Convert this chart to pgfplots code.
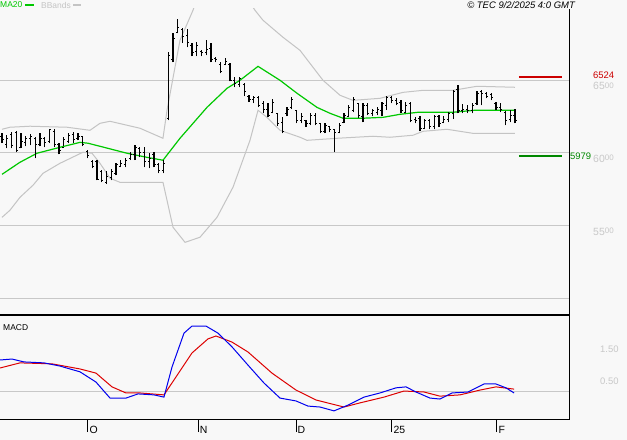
\documentclass[border=0pt]{standalone}
\usepackage{fontspec}
\setmainfont{Liberation Sans}
\usepackage{pgfplots}
\usepackage{pgfplotstable}
\pgfplotsset{compat=1.18}
\definecolor{bg}{HTML}{F8F8F8}
\definecolor{gridc}{HTML}{C8C8C8}
\definecolor{bandc}{HTML}{C4C4C4}
\definecolor{mac}{HTML}{00C800}
\definecolor{supc}{HTML}{008800}
\definecolor{resc}{HTML}{CC0000}
\definecolor{macdb}{HTML}{0000EE}
\definecolor{macdr}{HTML}{DD0000}
\newcommand\fs[1]{\fontsize{#1}{#1}\selectfont}
\newcommand\hund[1]{{\fs{10.5}#1}{\fs{8}\raisebox{1.8bp}{00}}}

\pgfplotstableread{
i o h l c
0 6110 6135 6067 6090
1 6060 6122 6032 6100
2 6130 6142 6032 6050
3 6140 6149 6005 6020
4 6040 6135 6032 6080
5 6070 6115 6046 6100
6 6100 6128 6053 6110
7 6100 6108 5963 6060
8 6060 6135 6046 6100
9 6100 6108 6039 6070
10 6080 6163 6067 6160
11 6150 6163 6039 6060
12 6060 6067 5991 6020
13 6040 6108 6046 6090
14 6080 6135 6067 6120
15 6130 6142 6067 6090
16 6100 6135 6087 6110
17 6110 6115 6046 6060
18 6010 6018 5963 5980
19 5940 5950 5894 5910
20 5940 5950 5812 5820
21 5870 5881 5798 5810
22 5800 5874 5785 5840
23 5830 5888 5812 5870
24 5860 5929 5846 5920
25 5910 5950 5901 5930
26 5920 5963 5901 5950
27 5960 6005 5950 5990
28 5990 6053 5950 6040
29 6030 6039 5970 6000
30 6000 6039 5901 5940
31 5940 5998 5894 5960
32 5990 6005 5901 5920
33 5920 5929 5860 5880
34 5880 5950 5860 5930
35 6240 6693 6225 6670
36 6640 6823 6624 6790
37 6830 6920 6823 6860
38 6850 6858 6755 6800
39 6810 6851 6727 6760
40 6740 6755 6665 6690
41 6700 6761 6665 6740
42 6700 6706 6665 6690
43 6690 6775 6672 6710
44 6720 6755 6624 6640
45 6650 6658 6624 6640
46 6610 6624 6548 6560
47 6610 6651 6603 6630
48 6610 6617 6493 6500
49 6500 6521 6452 6480
50 6470 6521 6452 6510
51 6470 6479 6390 6420
52 6390 6397 6349 6370
53 6370 6390 6342 6380
54 6380 6390 6314 6330
55 6340 6356 6273 6300
56 6300 6342 6245 6260
57 6280 6369 6273 6350
58 6270 6273 6184 6200
59 6210 6245 6135 6150
60 6270 6314 6252 6300
61 6310 6383 6300 6370
62 6290 6294 6204 6220
63 6220 6273 6204 6250
64 6220 6225 6177 6200
65 6200 6273 6190 6260
66 6260 6273 6190 6200
67 6200 6204 6135 6150
68 6150 6204 6135 6190
69 6180 6184 6142 6160
70 6160 6163 6005 6140
71 6140 6204 6135 6190
72 6210 6273 6204 6260
73 6250 6328 6245 6310
74 6290 6383 6280 6370
75 6340 6342 6239 6260
76 6250 6342 6211 6330
77 6330 6342 6259 6270
78 6270 6300 6252 6290
79 6280 6314 6259 6300
80 6290 6349 6252 6340
81 6330 6390 6294 6380
82 6380 6390 6342 6360
83 6360 6376 6328 6340
84 6350 6362 6273 6290
85 6280 6349 6273 6330
86 6340 6349 6211 6220
87 6230 6245 6204 6220
88 6240 6252 6149 6170
89 6170 6232 6163 6220
90 6220 6232 6163 6180
91 6180 6259 6163 6250
92 6250 6259 6177 6200
93 6210 6252 6204 6230
94 6230 6280 6211 6270
95 6270 6431 6232 6420
96 6440 6466 6273 6290
97 6290 6335 6273 6300
98 6300 6328 6273 6290
99 6290 6342 6273 6330
100 6340 6424 6328 6410
101 6420 6431 6328 6410
102 6410 6417 6376 6390
103 6400 6411 6362 6380
104 6340 6349 6294 6310
105 6310 6342 6280 6300
106 6280 6287 6190 6220
107 6230 6294 6211 6260
108 6260 6300 6204 6220
}\ohlc

\pgfplotstableread{
i p
0 5853
3.79 5936
7.37 5998
12.21 6039
16.42 6073
18.1 6067
20.63 6046
26.32 5998
30.53 5970
33.89 5950
37.47 6101
43.16 6314
47.37 6445
50.1 6500
53.9 6596
58.53 6500
62.1 6411
66.3 6314
69.05 6273
71.8 6239
76 6239
80.2 6245
83.8 6266
87.6 6280
94.9 6280
99.6 6294
108 6294
}\matab

\pgfplotstableread{
i p
0 6163
1.68 6177
5.89 6184
13.68 6177
18.53 6156
20.63 6204
22.74 6218
29.05 6170
33.89 6101
34.74 6294
37.47 6775
40.21 6982
41.68 7119
44.84 7222
48 7188
51.16 7085
53.26 6982
54.95 6913
59.16 6796
62.74 6706
67.58 6500
71.16 6397
73.89 6362
79.58 6376
84.42 6417
88.63 6431
94.95 6431
100 6459
108 6452
}\bbup

\pgfplotstableread{
i p
0 5557
1.68 5606
3.79 5695
6.53 5778
8.63 5860
12.21 5929
17.05 6005
18.95 5998
20.63 5929
22.74 5826
24.84 5798
29.05 5798
33.89 5798
34.74 5674
36 5489
38.53 5385
41.68 5420
45.26 5557
48.63 5764
52.21 6087
53.9 6294
55.79 6245
58.53 6156
62.74 6108
64.21 6087
70.53 6101
78.1 6115
81.68 6108
86.53 6122
88.63 6149
93.68 6163
99.16 6135
108 6135
}\bblo

\pgfplotstableread{
i v
-0.42 1.00
2.1 1.03
4.63 0.94
8.84 0.91
12.21 0.81
16.42 0.63
19.79 0.31
22.74 -0.19
26.1 -0.19
28.63 -0.06
32 -0.09
34.1 -0.16
35.79 0.78
38.32 1.84
40 2.06
42.95 2.06
45.47 1.84
48.42 1.41
51.79 0.84
55.16 0.28
58.53 -0.19
61.9 -0.28
64.42 -0.44
66.95 -0.47
69.9 -0.59
72.84 -0.41
76.21 -0.16
79.58 -0.03
82.95 0.13
85.05 0.16
87.16 0.00
90.1 -0.19
92.21 -0.22
94.74 -0.03
98.1 0.00
101.47 0.25
104 0.25
106.1 0.13
107.8 -0.03
}\macdtab

\pgfplotstableread{
i v
-0.42 0.75
3.79 0.91
10.53 0.88
16.42 0.72
19.79 0.59
23.16 0.16
26.1 -0.03
29.05 -0.03
34.1 -0.09
36.63 0.47
40 1.22
43.37 1.66
45.05 1.75
48.42 1.56
51.79 1.25
56.84 0.59
61.9 0.06
66.1 -0.25
72 -0.47
75.37 -0.34
80.42 -0.16
84.63 0.03
88.84 0.00
92.21 -0.13
96.42 -0.09
100.63 0.06
104 0.16
107.8 0.09
}\sigtab

\begin{document}
\begin{tikzpicture}
\useasboundingbox[fill=bg] (0bp,0bp) rectangle (627bp,-440bp);

% main price panel
\begin{axis}[
  at={(0bp,-9bp)}, anchor=north west,
  width=569bp, height=306bp, scale only axis,
  xmin=-0.421, xmax=119.37, ymin=4885, ymax=6990.6,
  axis line style={draw=none},
  xtick=\empty,
  ytick={5000,5500,6000,6500},
  yticklabels={,\hund{55},\hund{60},\hund{65}},
  ymajorgrids, grid style={gridc, line width=1bp},
  major tick length=0pt,
  yticklabel pos=right,
  yticklabel style={anchor=west, inner sep=0pt, xshift=24bp, yshift=-6bp, text=gridc},
]
\addplot[bandc, line width=1bp] table[x=i,y=p] {\bbup};
\addplot[bandc, line width=1bp] table[x=i,y=p] {\bblo};
\addplot[mac, line width=1.2bp] table[x=i,y=p] {\matab};
\addplot[draw=none, mark=none, error bars/.cd, y dir=plus, y explicit, error mark=none,
  error bar style={draw=black, line width=1.3bp}]
  table[x=i, y=l, y error expr=\thisrow{h}-\thisrow{l}] {\ohlc};
\addplot[draw=none, mark=none, error bars/.cd, x dir=minus, x fixed=0.32, error mark=none,
  error bar style={draw=black, line width=1bp}]
  table[x=i, y=o] {\ohlc};
\addplot[draw=none, mark=none, error bars/.cd, x dir=plus, x fixed=0.32, error mark=none,
  error bar style={draw=black, line width=1bp}]
  table[x=i, y=c] {\ohlc};
\addplot[resc, line width=2bp] coordinates {(108.8,6524) (117.9,6524)};
\addplot[supc, line width=2bp] coordinates {(108.8,5979) (117.9,5979)};
\end{axis}

% MACD panel
\begin{axis}[
  at={(0bp,-315bp)}, anchor=north west,
  width=569bp, height=104bp, scale only axis,
  xmin=-0.421, xmax=119.37, ymin=-0.844, ymax=2.406,
  axis line style={draw=none},
  xtick={18.1,41.3,61.9,82.1,104.2}, xticklabels={O,N,D,25,F},
  xtick pos=left, tick align=outside,
  x tick style={black, line width=1bp}, major tick length=13bp,
  xticklabel style={anchor=north west, inner sep=0pt, xshift=1.5bp, yshift=6bp, font=\fs{10.5}},
  ytick={0}, yticklabels={}, ymajorgrids, grid style={gridc, line width=1bp},
  y tick style={draw=none},
  ytick pos=right, yticklabel pos=right,
  extra y ticks={0.5,1.5}, extra y tick labels={0.50,1.50},
  extra y tick style={grid=none, y tick style={draw=none},
    yticklabel style={anchor=west, inner sep=0pt, xshift=18bp, yshift=-5bp, text=gridc, font=\fs{9.5}}},
]
\addplot[macdr, line width=1bp] table[x=i,y=v] {\sigtab};
\addplot[macdb, line width=1bp] table[x=i,y=v] {\macdtab};
\end{axis}

% frame lines
\draw[black, line width=2.5bp] (0bp,-315bp) -- (569.5bp,-315bp);
\draw[black, line width=1bp] (569bp,-9bp) -- (569bp,-419.5bp);
\draw[black, line width=1bp] (0bp,-419bp) -- (569.5bp,-419bp);

% header
\node[anchor=west, inner sep=0pt, text=mac, font=\fs{8.5}] at (0bp,-5bp) {MA20};
\draw[mac, line width=1.2bp] (25bp,-5bp) -- (34bp,-5bp);
\node[anchor=west, inner sep=0pt, text=bandc, font=\fs{8.5}] at (41bp,-5bp) {BBands};
\draw[bandc, line width=1.2bp] (73bp,-5bp) -- (81bp,-5bp);
\node[anchor=east, inner sep=0pt, font=\fs{9.5}\itshape] at (575bp,-5bp) {© TEC 9/2/2025 4:0 GMT};

% level labels
\node[anchor=west, inner sep=0pt, text=resc, font=\fs{9.5}] at (593bp,-75.5bp) {6524};
\node[anchor=west, inner sep=0pt, text=supc, font=\fs{9.5}] at (570bp,-156bp) {5979};
\node[anchor=west, inner sep=0pt, font=\fs{8.5}] at (3bp,-328bp) {MACD};
\end{tikzpicture}
\end{document}
